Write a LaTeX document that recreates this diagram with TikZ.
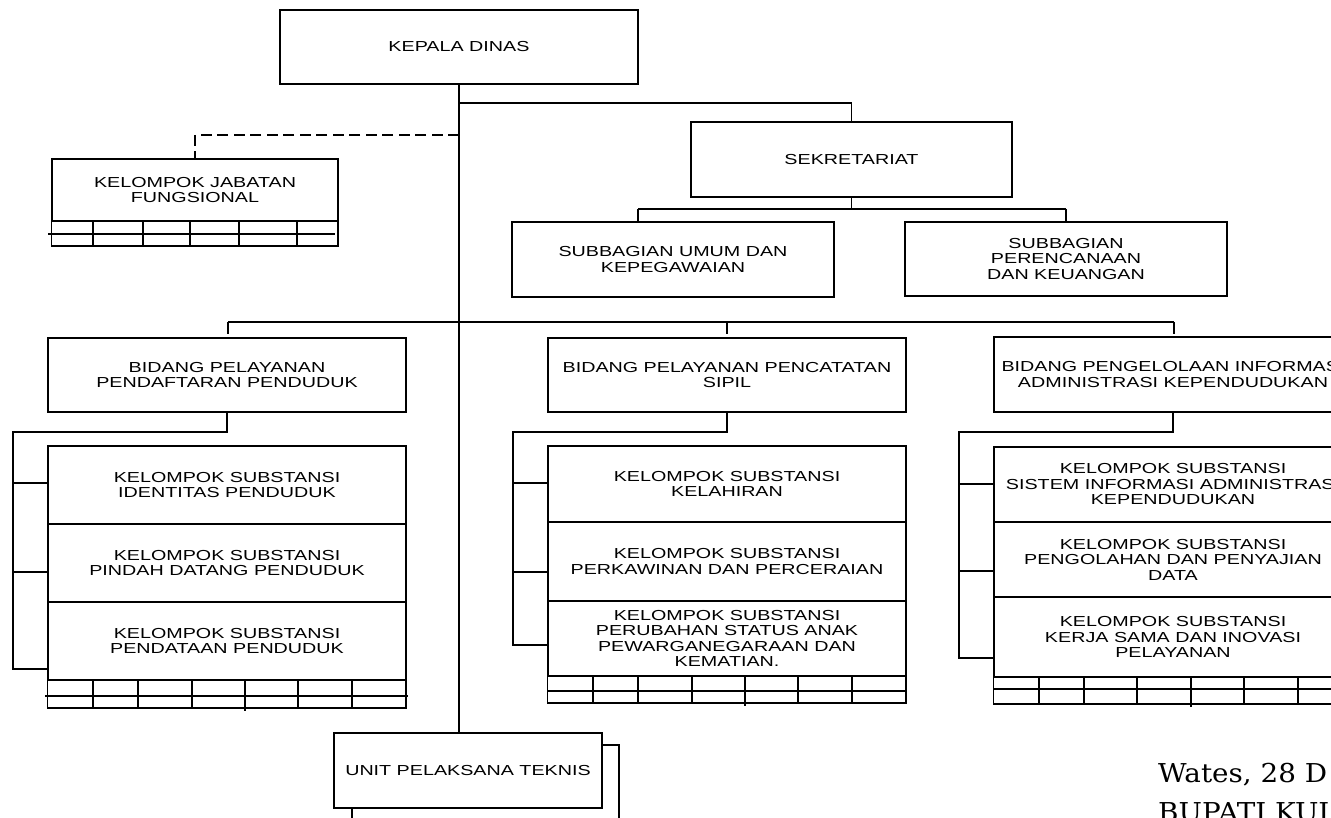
\documentclass[tikz,border=0pt]{standalone}
\usepackage{fontspec}
\setmainfont{Liberation Sans}[FakeStretch=1.36]
\newfontfamily\sigfont{DejaVu Serif}[FakeStretch=1.07]
\begin{document}
\begin{tikzpicture}[x=1pt,y=-1pt,
  box/.style={draw=black,line width=1.3pt,align=center,inner sep=0pt,
    font=\fontsize{14.5pt}{15.5pt}\selectfont},
  conn/.style={draw=black,line width=1.3pt},
  thick div/.style={draw=black,line width=2pt},
  dashconn/.style={draw=black,line width=1.8pt,dash pattern=on 11pt off 5.5pt},
  sig/.style={anchor=base west,inner sep=0pt,font=\sigfont\fontsize{26pt}{39pt}\selectfont}]
\path[use as bounding box] (0,0) rectangle (1331,818);
\clip (0,0) rectangle (1331,818);

% ---------- main boxes ----------
\node[box,minimum width=358pt,minimum height=74pt] (kd) at (459,47) {KEPALA DINAS};
\node[box,minimum width=321pt,minimum height=75pt] (sek) at (851.5,159.5) {SEKRETARIAT};
\node[box,minimum width=322pt,minimum height=75pt] (sbu) at (673,259.5) {SUBBAGIAN UMUM DAN\\KEPEGAWAIAN};
\node[box,minimum width=322pt,minimum height=74pt] (sbp) at (1066,259) {SUBBAGIAN\\PERENCANAAN\\DAN KEUANGAN};
\node[box,minimum width=286pt,minimum height=62pt] (kjf) at (195,190) {KELOMPOK JABATAN\\FUNGSIONAL};

\node[box,minimum width=358pt,minimum height=74pt] (bd1) at (227,375) {BIDANG PELAYANAN\\PENDAFTARAN PENDUDUK};
\node[box,minimum width=358pt,minimum height=74pt] (bd2) at (727,375) {BIDANG PELAYANAN PENCATATAN\\SIPIL};
\node[box,minimum width=358pt,minimum height=75pt] (bd3) at (1173,374.5) {BIDANG PENGELOLAAN INFORMASI\\ADMINISTRASI KEPENDUDUKAN};

\node[box,minimum width=358pt,minimum height=78pt] (c1a) at (227,485) {KELOMPOK SUBSTANSI\\IDENTITAS PENDUDUK};
\node[box,minimum width=358pt,minimum height=78pt] (c1b) at (227,563) {KELOMPOK SUBSTANSI\\PINDAH DATANG PENDUDUK};
\node[box,minimum width=358pt,minimum height=78pt] (c1c) at (227,641) {KELOMPOK SUBSTANSI\\PENDATAAN PENDUDUK};

\node[box,minimum width=358pt,minimum height=76pt] (c2a) at (727,484) {KELOMPOK SUBSTANSI\\KELAHIRAN};
\node[box,minimum width=358pt,minimum height=79pt] (c2b) at (727,561.5) {KELOMPOK SUBSTANSI\\PERKAWINAN DAN PERCERAIAN};
\node[box,minimum width=358pt,minimum height=75pt] (c2c) at (727,638.5) {KELOMPOK SUBSTANSI\\PERUBAHAN STATUS ANAK\\PEWARGANEGARAAN DAN\\KEMATIAN.};

\node[box,minimum width=358pt,minimum height=75pt] (c3a) at (1173,484.5) {KELOMPOK SUBSTANSI\\SISTEM INFORMASI ADMINISTRASI\\KEPENDUDUKAN};
\node[box,minimum width=358pt,minimum height=75pt] (c3b) at (1173,559.5) {KELOMPOK SUBSTANSI\\PENGOLAHAN DAN PENYAJIAN\\DATA};
\node[box,minimum width=358pt,minimum height=80pt] (c3c) at (1173,637) {KELOMPOK SUBSTANSI\\KERJA SAMA DAN INOVASI\\PELAYANAN};

\node[box,minimum width=268pt,minimum height=75pt] (upt) at (468,770.5) {UNIT PELAKSANA TEKNIS};

% ---------- tables under boxes ----------
% KJF
\draw[conn] (kjf.south west) rectangle (338,246);
\draw[thick div] (48,234) -- (335,234);
\foreach \x in {93,143,190,239,297} \draw[thick div] (\x,222) -- (\x,245);
% column 1
\draw[conn] (c1c.south west) rectangle (406,708);
\draw[thick div] (45,696) -- (408,696);
\foreach \x in {93,138,192,298,352} \draw[thick div] (\x,681) -- (\x,708);
\draw[thick div] (245,681) -- (245,711);
% column 2
\draw[conn] (c2c.south west) rectangle (906,703);
\draw[conn] (548,691) -- (906,691);
\foreach \x in {593,638,692,798,852} \draw[thick div] (\x,677) -- (\x,703);
\draw[thick div] (745,677) -- (745,706);
% column 3
\draw[conn] (c3c.south west) rectangle (1352,704);
\draw[conn] (994,689) -- (1352,689);
\foreach \x in {1039,1084,1137,1244,1298} \draw[thick div] (\x,678) -- (\x,704);
\draw[thick div] (1191,678) -- (1191,707);

% ---------- connectors ----------
\draw[conn] (kd.south) -- (kd.south |- upt.north);
\coordinate (j1) at (459,103);
\draw[conn] (j1) -| (sek.north);
\coordinate (jd) at (459,135);
\draw[dashconn] (jd) -| (kjf.north);

\coordinate (s1) at (638,209);
\coordinate (s2) at (1066,209);
\draw[conn] (sek.south) -- (sek.south |- s1);
\draw[conn] (s1) -- (s2);
\draw[conn] (s1) -- (s1 |- sbu.north);
\draw[conn] (s2) -- (sbp.north);

\coordinate (b1) at (228,322);
\coordinate (b2) at (727,322);
\coordinate (b3) at (1174,322);
\draw[conn] (b1) -- (b3);
\draw[conn] (b1) -- ++(0,12);
\draw[conn] (b2) -- ++(0,12);
\draw[conn] (b3) -- ++(0,12);

% column 1 bracket
\coordinate (k1) at (13,432);
\draw[conn] (bd1.south) |- (k1) -- (13,669) -- (13,669 -| c1c.west);
\draw[conn] (13,483) -- (13,483 -| c1a.west);
\draw[conn] (13,572) -- (13,572 -| c1b.west);
% column 2 bracket
\coordinate (k2) at (513,432);
\draw[conn] (bd2.south) |- (k2) -- (513,645) -- (513,645 -| c2c.west);
\draw[conn] (513,483) -- (513,483 -| c2a.west);
\draw[conn] (513,572) -- (513,572 -| c2b.west);
% column 3 bracket
\coordinate (k3) at (959,432);
\draw[conn] (bd3.south) |- (k3) -- (959,658) -- (959,658 -| c3c.west);
\draw[conn] (959,484) -- (959,484 -| c3a.west);
\draw[conn] (959,571) -- (959,571 -| c3b.west);

% UPT stacked box edges
\draw[conn] (upt.east |- 0,745) -| (619,818);
\draw[conn] (352,808) -- (352,818);

% ---------- signature text ----------
\node[sig] (wates) at (1158,782) {Wates, 28 D};
\node[sig] (bupati) at (1158,821) {BUPATI KUL};
\end{tikzpicture}
\end{document}
